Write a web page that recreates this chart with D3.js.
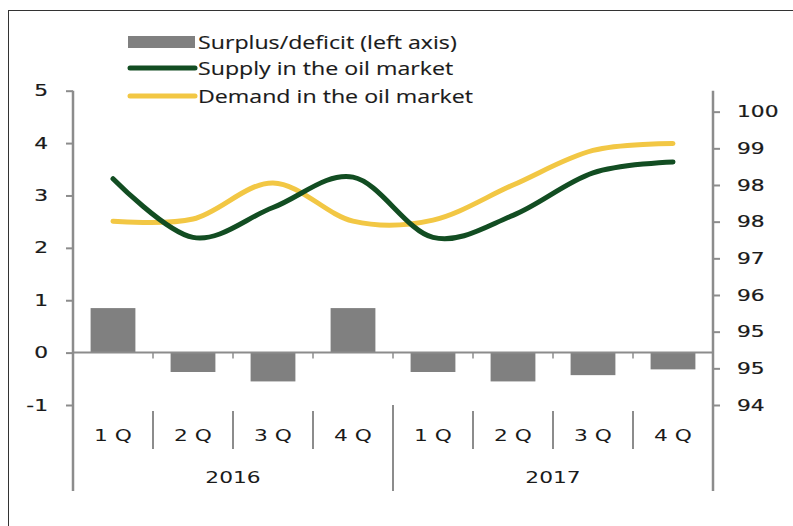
<!DOCTYPE html>
<html>
<head>
<meta charset="utf-8">
<script src="https://cdn.jsdelivr.net/npm/d3@7"></script>
<style>
  body { margin: 0; background: #fff; }
  text { font-family: "DejaVu Sans", Verdana, sans-serif; fill: #1a1a1a; }
  .legend text { font-family: "Open Sans", sans-serif; }
</style>
</head>
<body>
<div id="chart"></div>
<script>
// quarters and years on the category axis
var quarters = ["1 Q", "2 Q", "3 Q", "4 Q", "1 Q", "2 Q", "3 Q", "4 Q"]
var years = ["2016", "2017"]

// surplus/deficit, left axis
var balance = [0.85, -0.37, -0.55, 0.85, -0.37, -0.55, -0.43, -0.32]
// supply and demand, right axis
var supply = [98.32, 97.2, 97.77, 98.35, 97.2, 97.62, 98.43, 98.64]
var demand = [97.51, 97.55, 98.24, 97.51, 97.53, 98.2, 98.86, 98.99]

var leftTicks = [-1, 0, 1, 2, 3, 4, 5]
var leftLabels = ["-1", "0", "1", "2", "3", "4", "5"]
var rightTicks = [94, 94.7, 95.4, 96.1, 96.8, 97.5, 98.2, 98.9, 99.6]
var rightLabels = ["94", "95", "95", "96", "97", "98", "98", "99", "100"]

var legendNames = ["Surplus/deficit (left axis)", "Supply in the oil market", "Demand in the oil market"]

var W = 793, H = 526
var plot = {left: 73, right: 713, top: 90.7, bottom: 405}
var axisColor = "#8c8c8c"
var green = "#124d22", yellow = "#f2c744", barColor = "#808080"
var sx = 1.36   // the source text is drawn wide

var svg = d3.select("#chart").append("svg")
    .attr("width", W)
    .attr("height", H)

// widen text horizontally, keeping its anchor point fixed
function stretch(sel, k) {
  sel.each(function() {
    var t = d3.select(this)
    var ax = +t.attr("x") || 0
    t.attr("transform", "translate(" + ax + ",0) scale(" + k + ",1) translate(" + (-ax) + ",0)")
  })
}

// outer frame
svg.append("rect")
    .attr("x", 8.5).attr("y", 10.5)
    .attr("width", 800).attr("height", 540)
    .attr("fill", "none").attr("stroke", "#333").attr("stroke-width", 1)

var x = d3.scaleBand()
    .domain(d3.range(quarters.length))
    .range([plot.left, plot.right])
    .paddingInner(0.44)
    .paddingOuter(0.22)

var yL = d3.scaleLinear().domain([-1, 5]).range([plot.bottom, plot.top])
var yR = d3.scaleLinear().domain([94, 100]).range([plot.bottom, plot.top])

// bars
svg.append("g").selectAll("rect")
    .data(balance)
    .join("rect")
    .attr("x", function(d, i) { return x(i) })
    .attr("width", x.bandwidth())
    .attr("y", function(d) { return yL(Math.max(0, d)) })
    .attr("height", function(d) { return Math.abs(yL(d) - yL(0)) })
    .attr("fill", barColor)

// zero line with small ticks between quarters
var step = x.step()
svg.append("line")
    .attr("x1", plot.left).attr("x2", plot.right)
    .attr("y1", yL(0)).attr("y2", yL(0))
    .attr("stroke", axisColor).attr("stroke-width", 2)
svg.append("g").selectAll("line")
    .data(d3.range(1, quarters.length))
    .join("line")
    .attr("x1", function(i) { return x(i) - step * 0.22 })
    .attr("x2", function(i) { return x(i) - step * 0.22 })
    .attr("y1", yL(0)).attr("y2", yL(0) + 6)
    .attr("stroke", axisColor).attr("stroke-width", 1.5)

// left axis
var gL = svg.append("g")
    .attr("transform", "translate(" + plot.left + ",0)")
    .call(d3.axisLeft(yL).tickValues(leftTicks).tickSize(7).tickPadding(18)
      .tickFormat(function(d, i) { return leftLabels[i] }))
gL.select(".domain").remove()
gL.selectAll(".tick line").attr("stroke", axisColor).attr("stroke-width", 2)
gL.selectAll("text").style("font-size", "16px").style("font-family", "DejaVu Sans")
    .attr("fill", "#1a1a1a").attr("stroke", "#1a1a1a").attr("stroke-width", 0.2)
stretch(gL.selectAll("text"), sx)
svg.append("line")
    .attr("x1", plot.left).attr("x2", plot.left)
    .attr("y1", plot.top).attr("y2", 491)
    .attr("stroke", axisColor).attr("stroke-width", 2.5)

// right axis
var gR = svg.append("g")
    .attr("transform", "translate(" + plot.right + ",0)")
    .call(d3.axisRight(yR).tickValues(rightTicks).tickSize(7).tickPadding(17)
      .tickFormat(function(d, i) { return rightLabels[i] }))
gR.select(".domain").remove()
gR.selectAll(".tick line").attr("stroke", axisColor).attr("stroke-width", 2)
gR.selectAll("text").style("font-size", "16px").style("font-family", "DejaVu Sans")
    .attr("fill", "#1a1a1a").attr("stroke", "#1a1a1a").attr("stroke-width", 0.2)
stretch(gR.selectAll("text"), sx)
svg.append("line")
    .attr("x1", plot.right).attr("x2", plot.right)
    .attr("y1", plot.top).attr("y2", 491)
    .attr("stroke", axisColor).attr("stroke-width", 2.5)

// category axis: quarter labels, separators, years
var qText = svg.append("g").selectAll("text")
    .data(quarters)
    .join("text")
    .attr("x", function(d, i) { return x(i) + x.bandwidth() / 2 })
    .attr("y", 441)
    .attr("text-anchor", "middle")
    .style("font-size", "16px")
    .text(function(d) { return d })
stretch(qText, sx)

svg.append("g").selectAll("line")
    .data(d3.range(1, quarters.length).filter(function(i) { return i % 4 != 0 }))
    .join("line")
    .attr("x1", function(i) { return x(i) - step * 0.22 })
    .attr("x2", function(i) { return x(i) - step * 0.22 })
    .attr("y1", 411).attr("y2", 449)
    .attr("stroke", axisColor).attr("stroke-width", 2)

svg.append("line")
    .attr("x1", x(4) - step * 0.22).attr("x2", x(4) - step * 0.22)
    .attr("y1", 405).attr("y2", 491)
    .attr("stroke", axisColor).attr("stroke-width", 2)

var yText = svg.append("g").selectAll("text")
    .data(years)
    .join("text")
    .attr("x", function(d, i) { return (x(i * 4) + x(i * 4 + 3) + x.bandwidth()) / 2 })
    .attr("y", 483)
    .attr("text-anchor", "middle")
    .style("font-size", "16px")
    .text(function(d) { return d })
stretch(yText, sx)

// lines on right axis
var line = d3.line()
    .x(function(d, i) { return x(i) + x.bandwidth() / 2 })
    .y(function(d) { return yR(d) })
    .curve(d3.curveCatmullRom.alpha(0))

svg.append("path").datum(demand)
    .attr("d", line).attr("fill", "none")
    .attr("stroke", yellow).attr("stroke-width", 5).attr("stroke-linecap", "round")
svg.append("path").datum(supply)
    .attr("d", line).attr("fill", "none")
    .attr("stroke", green).attr("stroke-width", 5).attr("stroke-linecap", "round")

// legend
var lg = svg.append("g").attr("class", "legend")
var rowY = [42, 68, 96]
lg.append("rect").attr("x", 128).attr("y", rowY[0] - 6).attr("width", 67).attr("height", 12).attr("fill", barColor)
lg.append("line").attr("x1", 130).attr("x2", 195).attr("y1", rowY[1]).attr("y2", rowY[1])
    .attr("stroke", green).attr("stroke-width", 5).attr("stroke-linecap", "round")
lg.append("line").attr("x1", 130).attr("x2", 195).attr("y1", rowY[2]).attr("y2", rowY[2])
    .attr("stroke", yellow).attr("stroke-width", 5).attr("stroke-linecap", "round")
var lText = lg.selectAll("text")
    .data(legendNames)
    .join("text")
    .attr("x", 198)
    .attr("y", function(d, i) { return rowY[i] + 7 })
    .style("font-size", "19px")
    .attr("stroke", "#1a1a1a").attr("stroke-width", 0.15)
    .text(function(d) { return d })
stretch(lText, 1.22)
</script>
</body>
</html>
